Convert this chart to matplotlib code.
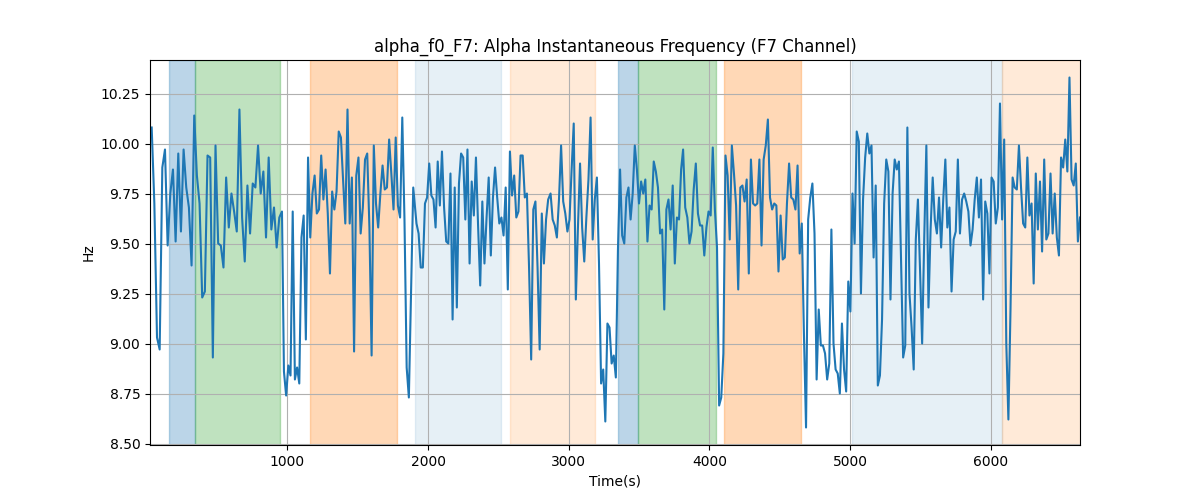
import numpy as np
import matplotlib
matplotlib.use("Agg")
import matplotlib.pyplot as plt

# values, left to right, in seven stretches
seg1 = [10.08, 9.70, 9.03, 8.97, 9.88, 9.97, 9.49, 9.75, 9.87, 9.51, 9.95, 9.56,
        9.97, 9.78, 9.68, 9.39, 10.14, 9.84, 9.70, 9.23, 9.26, 9.94, 9.93, 8.93,
        9.99, 9.50, 9.49, 9.38, 9.83, 9.58, 9.75, 9.66, 9.56, 10.17, 9.63, 9.41,
        9.79, 9.55, 9.80, 9.78, 9.99, 9.75, 9.86, 9.53, 9.93, 9.57, 9.68, 9.48,
        9.63, 9.66]
seg2 = [8.86, 8.74, 8.89, 8.84, 9.66, 8.82, 8.88, 8.80, 9.53, 9.64, 9.02, 9.93,
        9.53, 9.75, 9.84, 9.65, 9.67, 9.94, 9.72, 9.87, 9.65, 9.35, 9.76, 9.67,
        9.76, 10.06, 10.03, 9.81, 9.60, 10.17, 9.60, 9.83, 8.96, 9.84, 9.93, 9.55,
        9.68, 9.92, 9.95, 9.58, 8.94, 9.99, 9.70, 9.58, 9.75, 9.89, 9.77, 9.78,
        10.02, 9.85, 9.67, 10.03, 9.69, 9.63, 10.13, 9.62, 8.88, 8.73, 9.25, 9.78]
seg3 = [9.60, 9.55, 9.38, 9.38, 9.70, 9.73, 9.90, 9.74, 9.72, 9.58, 9.91, 9.69,
        9.96, 9.68, 9.51, 9.50, 9.85, 9.12, 9.78, 9.18, 9.80, 9.95, 9.93, 9.62,
        9.97, 9.40, 9.81, 9.64, 9.93, 9.59, 9.29, 9.71, 9.40, 9.63, 9.83, 9.44,
        9.73, 9.88, 9.73, 9.60, 9.63, 9.54, 9.78, 9.27, 9.96, 9.74, 9.84, 9.63,
        9.66, 9.94, 9.94, 9.73, 9.75, 9.38, 8.92, 9.67, 9.71, 9.38, 8.97, 9.65,
        9.40, 9.62, 9.72]
seg4 = [9.75, 9.62, 9.59, 9.53, 9.72, 9.99, 9.71, 9.65, 9.56, 9.62, 9.87, 10.10,
        9.22, 9.58, 9.90, 9.58, 9.41, 9.63, 9.82, 10.13, 9.52, 9.72, 9.83, 9.40,
        8.80, 8.87, 8.61, 9.10, 9.08, 8.90, 8.94, 8.83, 9.47, 9.87, 9.54, 9.50,
        9.73, 9.78, 9.62, 9.75, 9.99, 9.87, 9.70, 9.81, 9.75, 9.82, 9.51, 9.69,
        9.67, 9.91, 9.86, 9.78, 9.55, 9.57, 9.17, 9.67, 9.72, 9.57, 9.79, 9.40,
        9.63, 9.62, 9.87]
seg5 = [9.97, 9.68, 9.63, 9.50, 9.56, 9.77, 9.90, 9.65, 9.59, 9.59, 9.44, 9.58,
        9.66, 9.64, 9.98, 9.67, 9.48, 8.69, 8.73, 8.95, 9.94, 9.84, 9.52, 9.99,
        9.85, 9.69, 9.27, 9.78, 9.79, 9.71, 9.82, 9.35, 9.92, 9.70, 9.69, 9.70,
        9.92, 9.49, 9.92, 9.99, 10.12, 9.73, 9.67, 9.70, 9.69, 9.36, 9.64, 9.42,
        9.43, 9.70, 9.90, 9.73, 9.72, 9.67, 9.89, 9.45, 9.60, 9.05, 8.58, 9.62,
        9.73, 9.80]
seg6 = [9.55, 8.82, 9.17, 8.99, 8.99, 8.95, 8.82, 8.90, 9.57, 9.00, 8.87, 8.85,
        8.75, 9.10, 8.87, 8.76, 9.31, 9.16, 9.75, 9.50, 10.06, 10.01, 9.25, 9.72,
        9.93, 10.05, 9.95, 9.99, 9.43, 9.79, 8.79, 8.84, 9.12, 9.70, 9.92, 9.86,
        9.22, 9.75, 9.92, 9.87, 9.91, 9.43, 8.93, 8.99, 10.08, 9.25, 9.08, 8.87,
        9.52, 9.72, 9.37, 9.00, 9.53, 9.99, 9.18, 9.57, 9.83, 9.62, 9.55, 9.73,
        9.48, 9.72, 9.92]
seg7 = [9.58, 9.68, 9.26, 9.52, 9.56, 9.92, 9.55, 9.72, 9.75, 9.71, 9.66, 9.49,
        9.57, 9.72, 9.83, 9.63, 9.82, 9.22, 9.71, 9.65, 9.35, 9.83, 9.81, 9.60,
        9.68, 10.20, 9.62, 10.02, 9.00, 8.62, 9.17, 9.83, 9.78, 9.77, 9.99, 9.78,
        9.60, 9.58, 9.93, 9.64, 9.70, 9.30, 9.85, 9.57, 9.81, 9.46, 9.92, 9.52,
        9.55, 9.85, 9.55, 9.75, 9.53, 9.44, 9.93, 9.88, 10.02, 9.86, 10.33, 9.82,
        9.79, 9.90, 9.51, 9.63]
segments = [seg1, seg2, seg3, seg4, seg5, seg6, seg7]

# time (s) at the first and last sample of each stretch
seg_t0 = [36, 976, 1918, 2871, 3813, 4747, 5691]
seg_t1 = [962, 1895, 2854, 3799, 4732, 5677, 6634]

times = np.concatenate([np.linspace(a, b, len(s))
                        for a, b, s in zip(seg_t0, seg_t1, segments)])
freq = np.concatenate([np.array(s) for s in segments])

# shaded windows
span_starts = [160, 345, 1163, 1904, 2581, 3350, 3493, 4105, 5010, 6078]
span_ends = [345, 945, 1783, 2517, 3186, 3493, 4048, 4654, 6078, 6700]
span_colors = ["tab:blue", "tab:green", "tab:orange", "tab:blue", "tab:orange",
               "tab:blue", "tab:green", "tab:orange", "tab:blue", "tab:orange"]
span_alphas = [0.3, 0.3, 0.3, 0.11, 0.16, 0.3, 0.3, 0.3, 0.11, 0.16]

fig, ax = plt.subplots(figsize=(12, 5), dpi=100)
for s, e, c, a in zip(span_starts, span_ends, span_colors, span_alphas):
    ax.axvspan(s, e, color=c, alpha=a, linewidth=1)
ax.plot(times, freq, color="tab:blue", linewidth=1.5)
ax.set_xlim(24, 6634)
ax.grid(True)
ax.set_title("alpha_f0_F7: Alpha Instantaneous Frequency (F7 Channel)")
ax.set_xlabel("Time(s)")
ax.set_ylabel("Hz")

plt.savefig("out.png")
plt.close()
